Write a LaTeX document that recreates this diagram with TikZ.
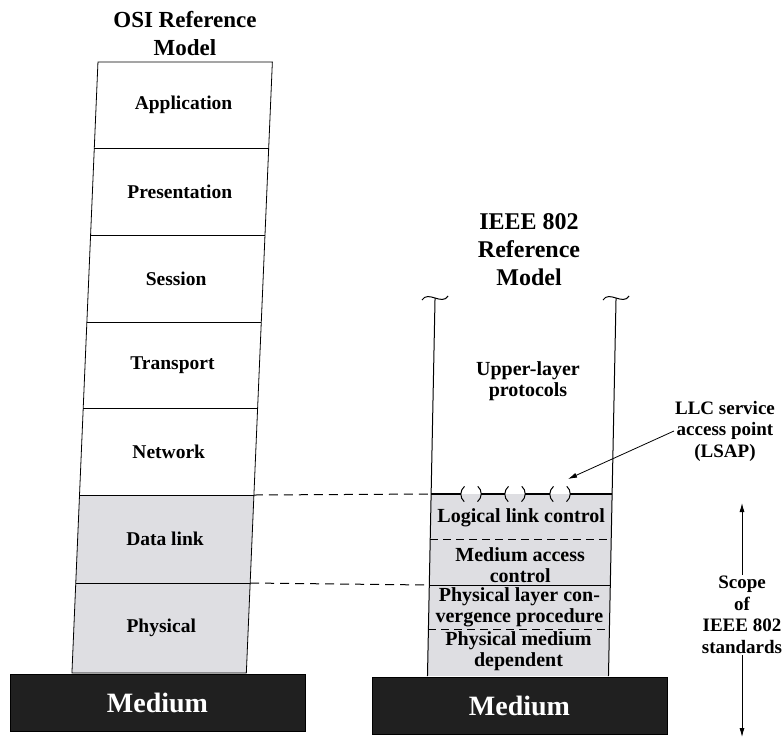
\documentclass[tikz,border=0pt]{standalone}
\usepackage{fontspec}
\setmainfont{Liberation Serif}
\usetikzlibrary{arrows.meta}
\definecolor{layergray}{RGB}{222,222,226}
\definecolor{mediumblack}{RGB}{32,32,32}
\begin{document}
\begin{tikzpicture}[x=1pt,y=-1pt,
  osilbl/.style={font=\fontsize{19.5}{21}\selectfont\bfseries},
  ieeelbl/.style={font=\fontsize{20}{21}\selectfont\bfseries, align=center, inner sep=0pt},
  title/.style={font=\fontsize{24}{28}\selectfont\bfseries, align=center},
  medium/.style={fill=mediumblack, draw=black, minimum width=295pt, minimum height=57pt,
    text=white, font=\fontsize{28}{30}\selectfont\bfseries},
  sidelbl/.style={font=\fontsize{19}{21.5}\selectfont\bfseries, align=center, inner sep=1pt},
  sap/.style={circle, minimum size=20pt, inner sep=0pt},
  pointer/.style={-{Latex[length=9pt,width=5pt]}, line width=0.8pt},
  sublayer/.style={dash pattern=on 8pt off 5pt, line width=1pt},
  guide/.style={dash pattern=on 9pt off 6pt, line width=1pt}]

\useasboundingbox (0,0) rectangle (783,740);

% OSI column
\node[title, font=\fontsize{23}{28}\selectfont\bfseries] (osititle) at (185,34) {OSI Reference\\Model};
\begin{scope}[xslant=0.0426]
  \fill[layergray] (100.6,495) rectangle (275,673);
  \draw[line width=0.8pt] (100.6,62) rectangle (275,673);
  \foreach \y in {148,235,322,408,495,583}
    \draw[line width=1pt] (100.6,\y) -- (275,\y);
  \foreach \name/\y/\txt in {app/105/Application, pres/191.5/Presentation, sess/278.5/Session,
      trans/365/Transport, net/451.5/Network, dl/539/Data link, phys/628/Physical}
    \node[osilbl] (\name) at (188,\y) {\txt};
  \coordinate (osiDL) at (275,495);
  \coordinate (osiPH) at (275,583);
\end{scope}

% IEEE 802 column
\node[title] (ieeetitle) at (529,250) {IEEE 802\\Reference\\Model};
\node[ieeelbl] (upper) at (528,381) {Upper-layer\\protocols};
\begin{scope}[xslant=0.02]
  \fill[layergray] (441,494) rectangle (622,676);
  \foreach \x in {441,622} {
    \draw[line width=1pt] (\x,298) -- (\x,676);
    \draw[line width=1pt] (\x-13,300) .. controls (\x-7,290) and (\x+7,306) .. (\x+13,296);
  }
  \coordinate (llcL) at (441,494);
  \coordinate (llcR) at (622,494);
  \coordinate (phyL) at (441,585);
  \draw[sublayer] (441,539) -- (622,539);
  \draw[line width=1pt] (441,585) -- (622,585);
  \draw[sublayer] (441,629) -- (622,629);
  \node[sap] (sap1) at (480.9,494) {};
  \node[sap] (sap2) at (524.9,494) {};
  \node[sap] (sap3) at (569.9,494) {};
  \foreach \s in {sap1,sap2,sap3} {
    \draw[line width=1pt] (\s.west) arc[start angle=180, end angle=130, radius=10]
      (\s.west) arc[start angle=180, end angle=230, radius=10];
    \draw[line width=1pt] (\s.east) arc[start angle=0, end angle=50, radius=10]
      (\s.east) arc[start angle=0, end angle=-50, radius=10];
  }
  \draw[line width=1.2pt] (llcL) -- (sap1) -- (sap2) -- (sap3) -- (llcR);
  \node[ieeelbl] (llc) at (531.5,518) {Logical link control};
  \node[ieeelbl] (mac) at (531.5,565.5) {Medium access\\control};
  \node[ieeelbl] (plcp) at (531.5,607.5) {Physical layer con-\\vergence procedure};
  \node[ieeelbl] (pmd) at (531.5,651) {Physical medium\\dependent};
\end{scope}

\draw[guide] (osiDL) -- (llcL);
\draw[guide] (osiPH) -- (phyL);

% side labels
\node[sidelbl] (lsap) at (725,431) {LLC service\\access point\\(LSAP)};
\coordinate (lsaptip) at ([xshift=8pt,yshift=15pt]sap3.center);
\draw[pointer] (lsap.west) -- (lsaptip);

\node[sidelbl] (scopelbl) at (742,615) {Scope\\of\\IEEE 802\\standards};
\coordinate (scopetop) at (742,503);
\coordinate (scopebot) at (742,737);
\draw[pointer] (scopelbl) -- (scopetop);
\draw[pointer] (scopelbl) -- (scopebot);

% media
\node[medium] (medL) at (157.5,702.5) {Medium};
\node[medium] (medR) at (519.5,705.5) {Medium};

\end{tikzpicture}
\end{document}
